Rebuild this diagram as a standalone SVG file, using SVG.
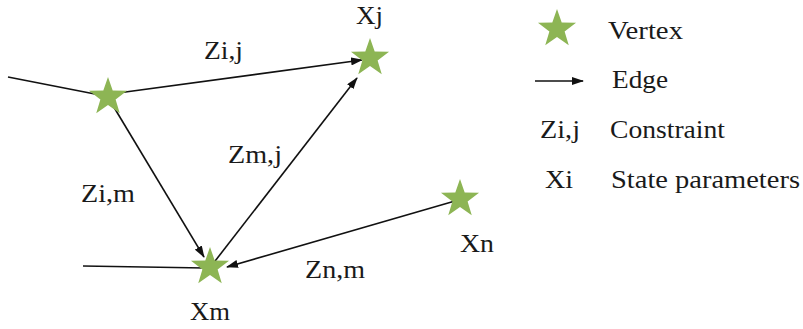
<svg xmlns="http://www.w3.org/2000/svg" xmlns:xlink="http://www.w3.org/1999/xlink" width="803" height="329" viewBox="0 0 803 329">
<style>
.t{font-family:"Liberation Serif","Times New Roman",Times,serif;font-size:26px;fill:#1a1a1a}
.e{stroke:#111;stroke-width:1.6;fill:none}
.s{fill:#8db554}
</style>
<defs>
<marker id="ah" markerUnits="userSpaceOnUse" markerWidth="12" markerHeight="8" refX="11" refY="4" orient="auto">
<path d="M0,0 L12,4 L0,8 z" fill="#111"/>
</marker>
<path id="star" d="M0,-20 L4.7,-6.47 L19.02,-6.18 L7.61,2.47 L11.76,16.18 L0,8 L-11.76,16.18 L-7.61,2.47 L-19.02,-6.18 L-4.7,-6.47 Z"/>
</defs>
<rect width="803" height="329" fill="#fff"/>
<g id="connectors">
<line class="e" x1="8" y1="77" x2="100" y2="95"/>
<line class="e" x1="118" y1="93" x2="362" y2="60" marker-end="url(#ah)"/>
<line class="e" x1="112" y1="104" x2="204" y2="257" marker-end="url(#ah)"/>
<line class="e" x1="212" y1="265" x2="357" y2="78" marker-end="url(#ah)"/>
<line class="e" x1="455" y1="201" x2="227" y2="267" marker-end="url(#ah)"/>
<line class="e" x1="83" y1="266" x2="205" y2="268"/>
<line class="e" x1="535" y1="81" x2="583" y2="81" marker-end="url(#ah)"/>
</g>
<g id="edge-labels">
<text class="t" x="204" y="59" textLength="39" lengthAdjust="spacingAndGlyphs">Zi,j</text>
<text class="t" x="81" y="202" textLength="54" lengthAdjust="spacingAndGlyphs">Zi,m</text>
<text class="t" x="228" y="163" textLength="54" lengthAdjust="spacingAndGlyphs">Zm,j</text>
<text class="t" x="305" y="278" textLength="60" lengthAdjust="spacingAndGlyphs">Zn,m</text>
</g>
<g id="node-i"><use xlink:href="#star" class="s" transform="translate(108,97)"/></g>
<g id="node-j"><use xlink:href="#star" class="s" transform="translate(370,58)"/><text class="t" x="356" y="24" textLength="27" lengthAdjust="spacingAndGlyphs">Xj</text></g>
<g id="node-m"><use xlink:href="#star" class="s" transform="translate(210,267)"/><text class="t" x="190" y="320" textLength="40" lengthAdjust="spacingAndGlyphs">Xm</text></g>
<g id="node-n"><use xlink:href="#star" class="s" transform="translate(460,199)"/><text class="t" x="460" y="252" textLength="34" lengthAdjust="spacingAndGlyphs">Xn</text></g>
<g id="legend">
<use xlink:href="#star" class="s" transform="translate(557,29)"/>
<text class="t" x="608" y="39" textLength="75" lengthAdjust="spacingAndGlyphs">Vertex</text>
<text class="t" x="612" y="88" textLength="56" lengthAdjust="spacingAndGlyphs">Edge</text>
<text class="t" x="540" y="138" textLength="40" lengthAdjust="spacingAndGlyphs">Zi,j</text>
<text class="t" x="610" y="138" textLength="115" lengthAdjust="spacingAndGlyphs">Constraint</text>
<text class="t" x="545" y="188" textLength="28" lengthAdjust="spacingAndGlyphs">Xi</text>
<text class="t" x="611" y="188" textLength="189" lengthAdjust="spacingAndGlyphs">State parameters</text>
</g>
</svg>
